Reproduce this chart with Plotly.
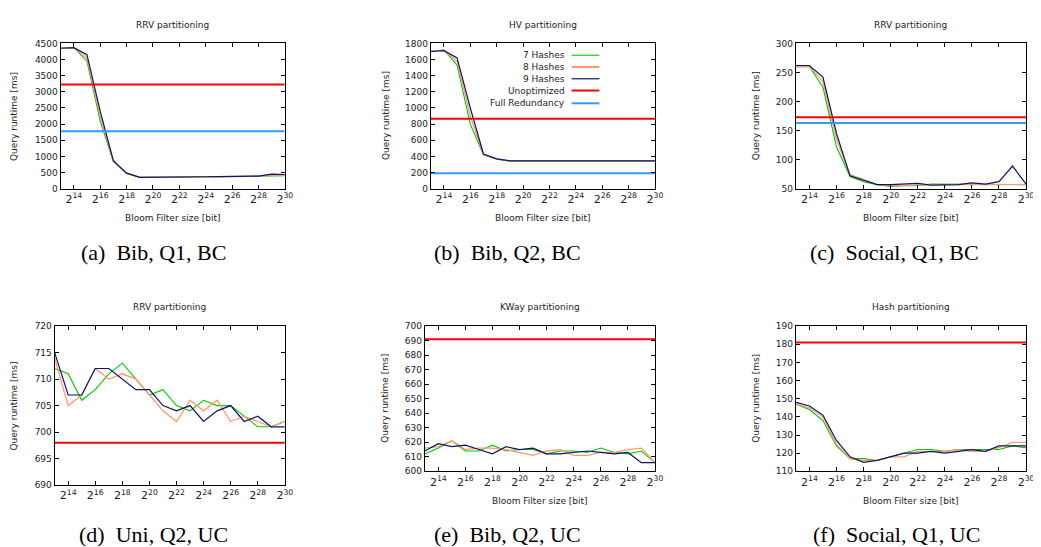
import plotly.graph_objects as go

# The page body adds an 8px margin; the figure is sized/offset to compensate.
OFF = 8
W, H = 1041 - OFF, 547 - OFF

# ---------------- data ----------------
exps = list(range(13, 31))  # Bloom filter size = 2^exp bits
tick_exps = list(range(14, 31, 2))
tick_labels = [f"2<sup>{e}</sup>" for e in tick_exps]

series_names = ["7 Hashes", "8 Hashes", "9 Hashes", "Unoptimized", "Full Redundancy"]

# (a) Bib, Q1, BC - RRV partitioning
a_h7 = [4350, 4370, 3950, 2100, 840, 480, 350, 350, 355, 360, 362, 365, 370, 375, 380, 385, 400, 400]
a_h8 = [4350, 4370, 4050, 2250, 860, 480, 350, 350, 355, 360, 363, 367, 372, 377, 382, 388, 420, 410]
a_h9 = [4350, 4370, 4150, 2400, 870, 480, 350, 350, 355, 360, 365, 370, 375, 380, 385, 390, 450, 440]
a_unopt = 3230
a_full = 1780

# (b) Bib, Q2, BC - HV partitioning
b_h7 = [1700, 1720, 1530, 800, 420, 365, 345, 345, 345, 345, 345, 345, 345, 345, 345, 345, 345, 345]
b_h8 = [1710, 1710, 1580, 900, 425, 368, 345, 345, 345, 345, 345, 345, 345, 345, 345, 345, 345, 345]
b_h9 = [1700, 1710, 1620, 1000, 430, 370, 345, 345, 345, 345, 345, 345, 345, 345, 345, 345, 345, 345]
b_unopt = 865
b_full = 190

# (c) Social, Q1, BC - RRV partitioning
c_h7 = [260, 260, 225, 122, 71, 62, 57, 54, 55, 55, 58, 58, 57, 58, 57, 57, 57, 57]
c_h8 = [260, 260, 235, 135, 74, 65, 57, 55, 56, 57, 57, 57, 57, 56, 57, 57, 57, 57]
c_h9 = [262, 262, 242, 145, 72, 64, 57, 57, 58, 59, 56, 57, 57, 60, 58, 62, 89, 58]
c_unopt = 173
c_full = 163

# (d) Uni, Q2, UC - RRV partitioning
d_h7 = [712, 711, 706, 708, 711, 713, 710, 707, 708, 705, 704, 706, 705, 705, 703, 701, 701, 702]
d_h8 = [714, 705, 707, 712, 710, 711, 710, 707, 704, 702, 706, 704, 706, 702, 703, 702, 701, 702]
d_h9 = [715, 707, 707, 712, 712, 710, 708, 708, 705, 704, 705, 702, 704, 705, 702, 703, 701, 701]
d_unopt = 698

# (e) Bib, Q2, UC - KWay partitioning
e_h7 = [612, 616, 621, 614, 614, 618, 614, 615, 615, 612, 614, 614, 613, 616, 613, 612, 614, 606]
e_h8 = [616, 617, 621, 615, 616, 616, 615, 613, 611, 614, 615, 611, 611, 613, 613, 615, 616, 606]
e_h9 = [614, 619, 617, 618, 615, 612, 617, 615, 616, 612, 612, 613, 614, 613, 612, 613, 606, 606]
e_unopt = 691

# (f) Social, Q1, UC - Hash partitioning
f_h7 = [147, 144, 138, 124, 117, 117, 116, 118, 120, 122, 122, 121, 122, 122, 122, 122, 124, 123]
f_h8 = [147, 145, 140, 125, 117, 116, 116, 118, 118, 121, 121, 121, 122, 121, 121, 123, 126, 126]
f_h9 = [148, 146, 141, 127, 118, 115, 116, 118, 120, 120, 121, 120, 121, 122, 121, 124, 124, 124]
f_unopt = 181

panel_titles = ["RRV partitioning", "HV partitioning", "RRV partitioning",
                "RRV partitioning", "KWay partitioning", "Hash partitioning"]
captions = ["(a)  Bib, Q1, BC", "(b)  Bib, Q2, BC", "(c)  Social, Q1, BC",
            "(d)  Uni, Q2, UC", "(e)  Bib, Q2, UC", "(f)  Social, Q1, UC"]
y_ranges = [(0, 4500, 500), (0, 1800, 200), (50, 300, 50),
            (690, 720, 5), (600, 700, 10), (110, 190, 10)]

panels = [
    (a_h7, a_h8, a_h9, a_unopt, a_full),
    (b_h7, b_h8, b_h9, b_unopt, b_full),
    (c_h7, c_h8, c_h9, c_unopt, c_full),
    (d_h7, d_h8, d_h9, d_unopt, None),
    (e_h7, e_h8, e_h9, e_unopt, None),
    (f_h7, f_h8, f_h9, f_unopt, None),
]

# ---------------- styling / layout ----------------
colors = ["#00c800", "#ff9a70", "#10106e", "#ff0000", "#3399ff"]
widths = [1.1, 1.3, 1.2, 2.0, 2.0]

# plot boxes in window pixels: (left, right, top, bottom)
boxes = [(61, 287, 39, 187), (434, 660, 39, 187), (802, 1034, 39, 187),
         (55, 287, 327, 489), (428, 660, 327, 475), (802, 1034, 327, 475)]
title_y = [20, 20, 20, 308, 308, 308]
xtitle_y = [217, 217, 217, None, 505, 505]
ytitle_x = [14, 389, 762, 14, 388, 762]
caption_x = [155, 511, 901, 155, 511, 903]
caption_y = [237, 237, 237, 525, 525, 525]

def px(x):
    return (x - OFF) / W

def py(y):
    return 1 - (y - OFF) / H

FONT = "DejaVu Sans"
TXT = "#222222"

fig = go.Figure()
annotations = []
shapes = []
layout = {}

for i, (data, box) in enumerate(zip(panels, boxes)):
    n = i + 1
    xa = "x" if n == 1 else f"x{n}"
    ya = "y" if n == 1 else f"y{n}"
    h7, h8, h9, unopt, full = data
    ys = [h7, h8, h9]
    for k in range(3):
        fig.add_trace(go.Scatter(x=exps, y=ys[k], mode="lines", name=series_names[k],
                                 line=dict(color=colors[k], width=widths[k]),
                                 xaxis=xa, yaxis=ya, showlegend=False))
    fig.add_trace(go.Scatter(x=[exps[0], exps[-1]], y=[unopt, unopt], mode="lines",
                             name=series_names[3], line=dict(color=colors[3], width=widths[3]),
                             xaxis=xa, yaxis=ya, showlegend=False))
    if full is not None:
        fig.add_trace(go.Scatter(x=[exps[0], exps[-1]], y=[full, full], mode="lines",
                                 name=series_names[4], line=dict(color=colors[4], width=widths[4]),
                                 xaxis=xa, yaxis=ya, showlegend=False))
    l, r, t, b = box
    y0, y1, dy = y_ranges[i]
    layout["xaxis" if n == 1 else f"xaxis{n}"] = dict(
        domain=[px(l), px(r)], range=[exps[0], exps[-1]], anchor=ya,
        tickmode="array", tickvals=tick_exps, ticktext=tick_labels,
        ticks="inside", ticklen=4, tickcolor="black", tickwidth=1,
        showline=True, linecolor="black", linewidth=1, mirror="ticks",
        showgrid=False, zeroline=False,
        tickfont=dict(family=FONT, size=11, color=TXT))
    layout["yaxis" if n == 1 else f"yaxis{n}"] = dict(
        domain=[py(b), py(t)], range=[y0, y1], anchor=xa,
        tickmode="linear", tick0=y0, dtick=dy,
        ticks="inside", ticklen=4, tickcolor="black", tickwidth=1,
        showline=True, linecolor="black", linewidth=1, mirror="ticks",
        showgrid=False, zeroline=False,
        tickfont=dict(family=FONT, size=9, color=TXT))
    cx = (l + r) / 2
    annotations.append(dict(text=panel_titles[i], x=px(cx), y=py(title_y[i]), xref="paper", yref="paper",
                            showarrow=False, xanchor="center", yanchor="middle",
                            font=dict(family=FONT, size=9, color=TXT)))
    if xtitle_y[i] is not None:
        annotations.append(dict(text="Bloom Filter size [bit]", x=px(cx), y=py(xtitle_y[i]),
                                xref="paper", yref="paper", showarrow=False,
                                xanchor="center", yanchor="middle",
                                font=dict(family=FONT, size=9, color=TXT)))
    annotations.append(dict(text="Query runtime [ms]", x=px(ytitle_x[i]), y=py((t + b) / 2),
                            xref="paper", yref="paper", showarrow=False, textangle=-90,
                            xanchor="center", yanchor="middle",
                            font=dict(family=FONT, size=9, color=TXT)))
    annotations.append(dict(text=captions[i], x=px(caption_x[i]), y=py(caption_y[i]),
                            xref="paper", yref="paper", showarrow=False,
                            xanchor="center", yanchor="top",
                            font=dict(family="Liberation Serif", size=22, color="black")))

# legend (inside panel b, text right-aligned with key line on the right)
leg_text_x = 571
leg_line = (576, 604)
leg_rows = [51, 63, 75, 87, 100]
for k, name in enumerate(series_names):
    annotations.append(dict(text=name, x=px(leg_text_x), y=py(leg_rows[k]), xref="paper", yref="paper",
                            showarrow=False, xanchor="right", yanchor="middle",
                            font=dict(family=FONT, size=9, color=TXT)))
    shapes.append(dict(type="line", xref="paper", yref="paper",
                       x0=px(leg_line[0]), x1=px(leg_line[1]), y0=py(leg_rows[k]), y1=py(leg_rows[k]),
                       line=dict(color=colors[k], width=widths[k] + (0.8 if k == 1 else 0))))

fig.update_layout(**layout)
fig.update_layout(width=W, height=H, margin=dict(l=0, r=0, t=0, b=0),
                  paper_bgcolor="white", plot_bgcolor="white",
                  showlegend=False, annotations=annotations, shapes=shapes)

fig.write_html("out.html")
